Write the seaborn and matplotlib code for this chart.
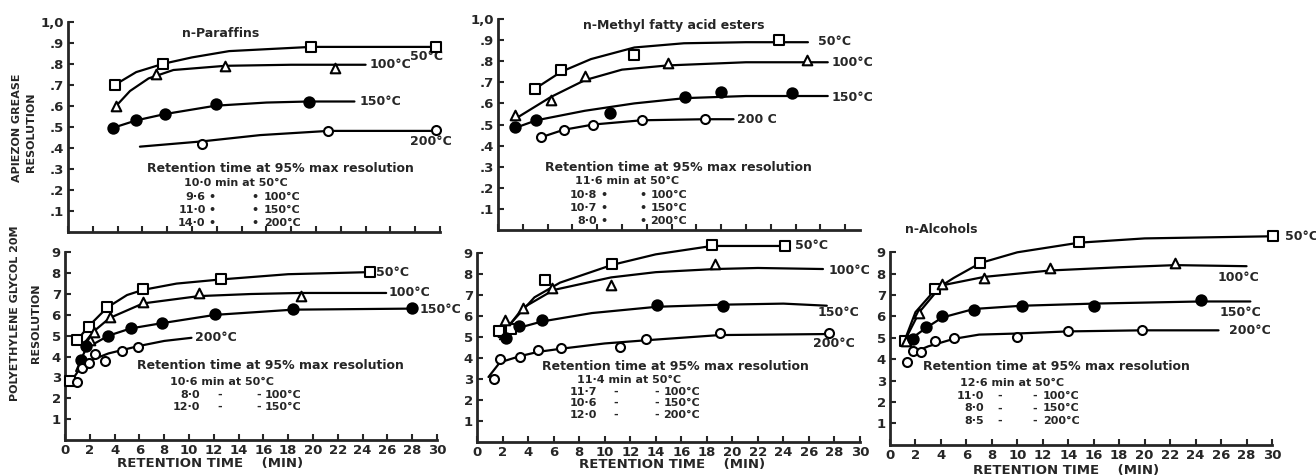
import matplotlib
matplotlib.use("Agg")
import matplotlib.pyplot as plt
import seaborn as sns
import pandas as pd

# ---------------- DATA ----------------
temps = ["50°C", "100°C", "150°C", "200°C"]

# Panel 1: Apiezon grease, n-Paraffins  (t = retention time min, r = resolution)
par50_t = [3.8, 7.7, 19.6, 29.7];           par50_r = [0.70, 0.80, 0.88, 0.88]
par50_ct = [3.8, 5.5, 7.7, 10, 13, 19.6, 30]; par50_cr = [0.70, 0.76, 0.80, 0.83, 0.86, 0.88, 0.88]
par100_t = [3.9, 7.1, 12.7, 21.5];          par100_r = [0.60, 0.75, 0.79, 0.78]
par100_ct = [3.9, 5.0, 6.5, 8.5, 12.7, 18, 24]; par100_cr = [0.60, 0.67, 0.73, 0.77, 0.79, 0.795, 0.795]
par150_t = [3.65, 5.5, 7.8, 11.9, 19.4];    par150_r = [0.495, 0.53, 0.56, 0.61, 0.62]
par150_ct = [3.65, 5.5, 7.8, 11.9, 16, 19.4, 23.1]; par150_cr = [0.495, 0.53, 0.56, 0.60, 0.615, 0.62, 0.62]
par200_t = [10.8, 21.0, 29.7];              par200_r = [0.42, 0.48, 0.485]
par200_ct = [5.8, 10.8, 15.5, 21, 29.7];    par200_cr = [0.405, 0.43, 0.46, 0.48, 0.48]

# Panel 2: Apiezon grease, n-Methyl fatty acid esters
est50_t = [3.0, 5.1, 11.0, 22.7];           est50_r = [0.67, 0.76, 0.83, 0.90]
est50_ct = [3.0, 5.1, 7.5, 11, 15, 20, 25]; est50_cr = [0.67, 0.75, 0.81, 0.865, 0.885, 0.89, 0.89]
est100_t = [1.4, 4.25, 7.0, 13.7, 24.9];    est100_r = [0.545, 0.615, 0.73, 0.79, 0.805]
est100_ct = [1.2, 4.25, 7.0, 10, 13.7, 20, 26.6]; est100_cr = [0.52, 0.63, 0.71, 0.76, 0.78, 0.795, 0.795]
est150_t = [1.4, 3.1, 9.0, 15.1, 18.0, 23.7]; est150_r = [0.49, 0.52, 0.555, 0.63, 0.655, 0.65]
est150_ct = [1.2, 3.1, 7, 11, 15.1, 20, 26.6]; est150_cr = [0.48, 0.52, 0.565, 0.60, 0.625, 0.635, 0.635]
est200_t = [3.5, 5.3, 7.7, 11.6, 16.7];     est200_r = [0.44, 0.475, 0.50, 0.52, 0.525]
est200_ct = [3.5, 5.3, 7.7, 11.6, 16.7, 19.0]; est200_cr = [0.44, 0.475, 0.50, 0.52, 0.525, 0.525]

# Panel 3: Polyethylene glycol 20M, n-Paraffins
pp50_t = [0.4, 1.0, 1.9, 3.4, 6.3, 12.6, 24.6]; pp50_r = [2.85, 4.8, 5.4, 6.4, 7.25, 7.7, 8.05]
pp50_ct = [1.0, 1.9, 3.4, 5, 6.3, 9, 12.6, 18, 24.6]; pp50_cr = [4.8, 5.45, 6.35, 6.95, 7.2, 7.5, 7.7, 7.95, 8.05]
pp100_t = [2.0, 2.3, 3.6, 6.3, 10.8, 19.0]; pp100_r = [4.8, 5.2, 5.9, 6.6, 7.05, 6.9]
pp100_ct = [1.5, 2.3, 3.6, 6.3, 10.8, 15, 19, 25.9]; pp100_cr = [4.6, 5.2, 5.85, 6.55, 6.9, 7.0, 7.05, 7.05]
pp150_t = [1.3, 1.7, 3.5, 5.3, 7.8, 12.1, 18.4, 28.0]; pp150_r = [3.85, 4.5, 5.0, 5.35, 5.6, 6.05, 6.3, 6.35]
pp150_ct = [0.9, 1.3, 1.7, 3.5, 5.3, 7.8, 12.1, 18.4, 28.0]; pp150_cr = [3.3, 3.85, 4.4, 5.0, 5.35, 5.6, 6.0, 6.25, 6.3]
pp200_t = [1.0, 1.35, 1.9, 2.4, 3.2, 4.6, 5.9]; pp200_r = [2.8, 3.45, 3.7, 4.1, 3.8, 4.25, 4.45]
pp200_ct = [0.6, 1.0, 2.0, 3.5, 5.9, 8, 10.2]; pp200_cr = [2.9, 3.25, 3.8, 4.15, 4.5, 4.75, 4.9]

# Panel 4: Polyethylene glycol 20M, n-Methyl fatty acid esters
pe50_t = [1.7, 2.7, 5.3, 10.6, 18.4, 24.1]; pe50_r = [5.3, 5.4, 7.75, 8.5, 9.4, 9.35]
pe50_ct = [1.7, 3, 4.5, 6.5, 10.6, 14, 18.4, 24.5]; pe50_cr = [5.0, 5.9, 6.9, 7.6, 8.45, 8.95, 9.35, 9.35]
pe100_t = [2.2, 3.6, 5.9, 10.5, 18.65];     pe100_r = [5.8, 6.4, 7.35, 7.5, 8.5]
pe100_ct = [1.8, 3.6, 6, 10.5, 14, 18.65, 22, 27.1]; pe100_cr = [5.0, 6.4, 7.25, 7.85, 8.1, 8.25, 8.3, 8.25]
pe150_t = [2.3, 3.3, 5.1, 14.1, 19.25];     pe150_r = [4.95, 5.55, 5.8, 6.55, 6.5]
pe150_ct = [1.8, 3.3, 5.1, 9, 14.1, 19.25, 24, 27.4]; pe150_cr = [4.9, 5.45, 5.75, 6.15, 6.45, 6.55, 6.6, 6.5]
pe200_t = [1.3, 1.8, 3.4, 4.8, 6.6, 11.2, 13.2, 19.0, 27.6]; pe200_r = [3.0, 3.98, 4.06, 4.38, 4.5, 4.55, 4.9, 5.2, 5.2]
pe200_ct = [0.9, 1.8, 3.4, 4.8, 6.6, 10, 13.2, 19, 27.6]; pe200_cr = [3.1, 3.8, 4.1, 4.3, 4.45, 4.7, 4.85, 5.1, 5.15]

# Panel 5: Polyethylene glycol 20M, n-Alcohols
al50_t = [1.2, 3.55, 7.1, 14.85, 30.05];    al50_r = [4.85, 7.3, 8.5, 9.5, 9.75]
al50_ct = [1.1, 2.0, 3.55, 5, 7.1, 10, 14.85, 20, 30.05]; al50_cr = [4.8, 6.2, 7.25, 7.8, 8.5, 9.0, 9.45, 9.65, 9.75]
al100_t = [1.25, 2.3, 4.05, 7.4, 12.6, 22.4]; al100_r = [4.85, 6.15, 7.5, 7.8, 8.25, 8.5]
al100_ct = [1.1, 2.3, 4.05, 7.4, 12.6, 18, 22.4, 28]; al100_cr = [4.8, 6.2, 7.45, 7.85, 8.15, 8.3, 8.4, 8.35]
al150_t = [1.83, 2.8, 4.1, 6.6, 10.35, 16.0, 24.4]; al150_r = [4.95, 5.5, 6.0, 6.3, 6.5, 6.5, 6.75]
al150_ct = [1.3, 2.8, 4.1, 6.6, 10.35, 16, 24.4, 28.3]; al150_cr = [4.8, 5.45, 5.95, 6.35, 6.5, 6.6, 6.7, 6.7]
al200_t = [1.3, 1.83, 2.4, 3.55, 5.0, 9.95, 14.0, 19.8]; al200_r = [3.85, 4.4, 4.35, 4.85, 4.97, 5.05, 5.3, 5.35]
al200_ct = [1.8, 3, 5, 7, 9.95, 14, 19.8, 25.8]; al200_cr = [4.3, 4.6, 4.95, 5.15, 5.2, 5.3, 5.35, 5.35]

# Retention-time tables (value, temperature)
tab_par = ["10·0", "9·6", "11·0", "14·0"]
tab_est = ["11·6", "10·8", "10·7", "8·0"]
tab_pp = ["10·6", "8·0", "12·0"]
tab_pe = ["11·4", "11·7", "10·6", "12·0"]
tab_al = ["12·6", "11·0", "8·0", "8·5"]

top_yticks = [0.1, 0.2, 0.3, 0.4, 0.5, 0.6, 0.7, 0.8, 0.9, 1.0]
top_yticklabels = [".1", ".2", ".3", ".4", ".5", ".6", ".7", ".8", ".9", "1,0"]
bot_yticks = [1, 2, 3, 4, 5, 6, 7, 8, 9]
xticks = list(range(0, 31, 2))

# ---------------- STYLE ----------------
sns.set_style("ticks")
plt.rcParams['font.family'] = ['DejaVu Sans']
plt.rcParams['font.weight'] = 'bold'

W, H = 1316, 476
fig = plt.figure(figsize=(W / 100, H / 100), dpi=100)


def px_axes(left, right, top, bottom):
    return fig.add_axes([left / W, 1 - bottom / H, (right - left) / W, (bottom - top) / H])


MARK = {"50°C": dict(marker="s", fc="white", s=42),
        "100°C": dict(marker="^", fc="white", s=48),
        "150°C": dict(marker="o", fc="black", s=55),
        "200°C": dict(marker="o", fc="white", s=42)}


def draw_panel(ax, series, xlim, ylim, top, xlab_pos=(0.4, -0.085)):
    for temp, (t, r, ct, cr) in zip(temps, series):
        cdf = pd.DataFrame({"t": ct, "r": cr})
        sns.lineplot(data=cdf, x="t", y="r", sort=False, estimator=None,
                     color="black", linewidth=1.6, ax=ax)
        mdf = pd.DataFrame({"t": t, "r": r})
        m = MARK[temp]
        sns.scatterplot(data=mdf, x="t", y="r", marker=m["marker"], s=m["s"],
                        facecolor=m["fc"], edgecolor="black", linewidth=1.5,
                        ax=ax, zorder=4, clip_on=False)
    for ln in ax.lines:
        ln.set_clip_on(False)
    ax.set_xlim(*xlim)
    ax.set_ylim(*ylim)
    sns.despine(ax=ax)
    for sp in ("left", "bottom"):
        ax.spines[sp].set_linewidth(2)
    ax.tick_params(direction="in", length=4, width=1.5, labelsize=9.5, pad=3)
    ax.set_xticks([x for x in xticks if x <= xlim[1]])
    ax.set_ylabel("")
    if top:
        ax.set_yticks(top_yticks)
        ax.set_yticklabels(top_yticklabels)
        ax.set_xticklabels([])
        ax.set_xlabel("")
    else:
        ax.set_yticks(bot_yticks)
        ax.set_yticklabels([str(v) for v in bot_yticks])
        ax.set_xlabel("RETENTION TIME    (MIN)", fontsize=9.5, fontweight="bold")
        ax.xaxis.set_label_coords(*xlab_pos)


def temp_labels(ax, specs):
    for txt, x, y in specs:
        ax.text(x, y, txt, fontsize=9, fontweight="bold", ha="left", va="center", clip_on=False)


def table(ax, hx, hy, values, nx, first_x, d1, d2, tx, rows_y, mark):
    fs = 8
    ax.text(hx, hy, "Retention time at 95% max resolution", fontsize=9, fontweight="bold",
            ha="left", va="center")
    ax.text(first_x, rows_y[0], f"{values[0]} min at 50°C", fontsize=fs, fontweight="bold",
            ha="left", va="center")
    for v, temp, y in zip(values[1:], temps[1:], rows_y[1:]):
        ax.text(nx, y, v, fontsize=fs, fontweight="bold", ha="right", va="center")
        ax.text(d1, y, mark, fontsize=fs, fontweight="bold", ha="center", va="center")
        ax.text(d2, y, mark, fontsize=fs, fontweight="bold", ha="center", va="center")
        ax.text(tx, y, temp, fontsize=fs, fontweight="bold", ha="left", va="center")


# ---- Panel 1
ax1 = px_axes(68, 440, 21.7, 231.7)
draw_panel(ax1, [(par50_t, par50_r, par50_ct, par50_cr), (par100_t, par100_r, par100_ct, par100_cr),
                 (par150_t, par150_r, par150_ct, par150_cr), (par200_t, par200_r, par200_ct, par200_cr)],
           (0, 30), (0, 1.0), True)
ax1.text(9.2, 0.946, "n-Paraffins", fontsize=9, fontweight="bold", va="center")
temp_labels(ax1, [("50°C", 27.6, 0.835), ("100°C", 24.3, 0.795), ("150°C", 23.5, 0.62), ("200°C", 27.6, 0.43)])
table(ax1, 6.4, 0.30, tab_par, 11.1, 9.35, 11.6, 15.1, 15.8, [0.233, 0.167, 0.103, 0.043], "•")

# ---- Panel 2
ax2 = px_axes(498, 860, 19, 230)
draw_panel(ax2, [(est50_t, est50_r, est50_ct, est50_cr), (est100_t, est100_r, est100_ct, est100_cr),
                 (est150_t, est150_r, est150_ct, est150_cr), (est200_t, est200_r, est200_ct, est200_cr)],
           (0, 29.2), (0, 1.0), True)
ax2.text(6.85, 0.97, "n-Methyl fatty acid esters", fontsize=9, fontweight="bold", va="center")
temp_labels(ax2, [("50°C", 25.8, 0.895), ("100°C", 26.9, 0.795), ("150°C", 26.9, 0.63), ("200 C", 19.3, 0.525)])
table(ax2, 3.8, 0.297, tab_est, 8.0, 6.2, 8.55, 11.7, 12.3, [0.233, 0.167, 0.103, 0.043], "•")

# ---- Panel 3
ax3 = px_axes(65, 437, 252.3, 440)
draw_panel(ax3, [(pp50_t, pp50_r, pp50_ct, pp50_cr), (pp100_t, pp100_r, pp100_ct, pp100_cr),
                 (pp150_t, pp150_r, pp150_ct, pp150_cr), (pp200_t, pp200_r, pp200_ct, pp200_cr)],
           (0, 30), (0, 9), False, (0.39, -0.09))
temp_labels(ax3, [("50°C", 25.1, 8.05), ("100°C", 26.1, 7.05), ("150°C", 28.6, 6.25), ("200°C", 10.5, 4.9)])
table(ax3, 5.8, 3.55, tab_pp, 10.9, 8.47, 12.5, 15.6, 16.1, [2.8, 2.16, 1.6], "-")

# ---- Panel 4
ax4 = px_axes(477, 860, 253.3, 442)
draw_panel(ax4, [(pe50_t, pe50_r, pe50_ct, pe50_cr), (pe100_t, pe100_r, pe100_ct, pe100_cr),
                 (pe150_t, pe150_r, pe150_ct, pe150_cr), (pe200_t, pe200_r, pe200_ct, pe200_cr)],
           (0, 30), (0, 9), False, (0.51, -0.085))
temp_labels(ax4, [("50°C", 24.9, 9.35), ("100°C", 27.5, 8.2), ("150°C", 26.7, 6.2), ("200°C", 26.3, 4.7)])
table(ax4, 5.06, 3.62, tab_pe, 9.4, 7.8, 10.9, 14.06, 14.6, [2.98, 2.4, 1.85, 1.3], "-")

# ---- Panel 5
ax5 = px_axes(890, 1272, 252.3, 444.7)
draw_panel(ax5, [(al50_t, al50_r, al50_ct, al50_cr), (al100_t, al100_r, al100_ct, al100_cr),
                 (al150_t, al150_r, al150_ct, al150_cr), (al200_t, al200_r, al200_ct, al200_cr)],
           (0, 30), (0, 9), False, (0.46, -0.1))
ax5.text(1.2, 10.08, "n-Alcohols", fontsize=9, fontweight="bold", va="center", clip_on=False)
temp_labels(ax5, [("50°C", 31.0, 9.75), ("100°C", 25.7, 7.82), ("150°C", 25.9, 6.2), ("200°C", 26.6, 5.35)])
table(ax5, 2.6, 3.64, tab_al, 7.35, 5.5, 8.65, 11.4, 12.0, [2.87, 2.29, 1.7, 1.1], "-")

# ---- y-axis titles
fig.text(17 / W, 1 - 128 / H, "APIEZON GREASE", rotation=90, fontsize=8, fontweight="bold",
         ha="center", va="center")
fig.text(31 / W, 1 - 132 / H, "RESOLUTION", rotation=90, fontsize=8, fontweight="bold",
         ha="center", va="center")
fig.text(15 / W, 1 - 313 / H, "POLYETHYLENE GLYCOL 20M", rotation=90, fontsize=8, fontweight="bold",
         ha="center", va="center")
fig.text(36 / W, 1 - 323 / H, "RESOLUTION", rotation=90, fontsize=8, fontweight="bold",
         ha="center", va="center")

fig.savefig("out.png", dpi=100, facecolor="white")
